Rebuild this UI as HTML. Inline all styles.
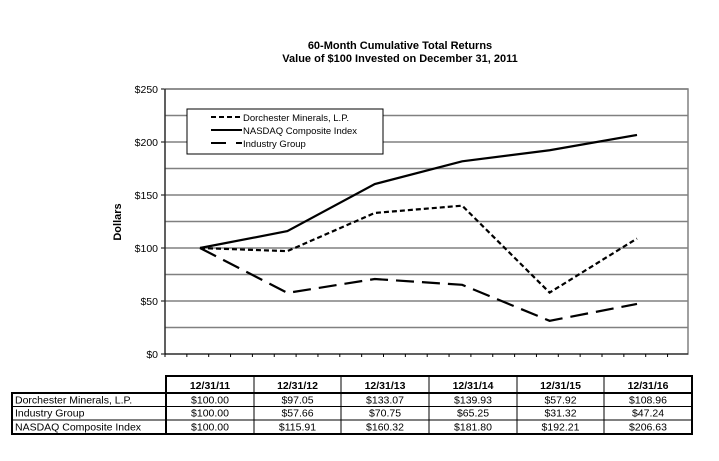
<!DOCTYPE html>
<html><head><meta charset="utf-8"><style>
body{margin:0;background:#fff;}
svg text{font-family:"Liberation Sans",Arial,sans-serif;}
</style></head><body>
<svg width="719" height="456" viewBox="0 0 719 456">
<text x="400" y="49" font-size="11" font-weight="bold" text-anchor="middle">60-Month Cumulative Total Returns</text>
<text x="400" y="62" font-size="11" font-weight="bold" text-anchor="middle">Value of $100 Invested on December 31, 2011</text>
<text transform="translate(121,222) rotate(-90)" font-size="11" font-weight="bold" text-anchor="middle">Dollars</text>
<g id="grid"></g>
<g id="series"></g>
<g id="legend">
<rect x="187" y="109" width="196" height="45" fill="#fff" stroke="#000" stroke-width="1"/>
<line x1="211" y1="117" x2="242" y2="117" stroke="#000" stroke-width="2" stroke-dasharray="5,3"/>
<text x="243" y="121" font-size="9.5">Dorchester Minerals, L.P.</text>
<line x1="211" y1="130" x2="242" y2="130" stroke="#000" stroke-width="2"/>
<text x="243" y="134" font-size="9.5">NASDAQ Composite Index</text>
<line x1="211" y1="143" x2="226" y2="143" stroke="#000" stroke-width="2"/>
<line x1="236" y1="143" x2="242" y2="143" stroke="#000" stroke-width="2"/>
<text x="243" y="147" font-size="9.5">Industry Group</text>
</g>
<g id="table"></g>
</svg>
<script>
const categories=["12/31/11","12/31/12","12/31/13","12/31/14","12/31/15","12/31/16"];
const dorchester=[100.00,97.05,133.07,139.93,57.92,108.96];
const industry=[100.00,57.66,70.75,65.25,31.32,47.24];
const nasdaq=[100.00,115.91,160.32,181.80,192.21,206.63];
const yTicks=[0,50,100,150,200,250];
const rowNames=["Dorchester Minerals, L.P.","Industry Group","NASDAQ Composite Index"];
const NS="http://www.w3.org/2000/svg";
const L=165,R=688,T=89,B=354;
const y=v=>B-(v/250)*(B-T);
const x=i=>200+i*87.4;
function mk(tag,attrs,parent){const e=document.createElementNS(NS,tag);for(const k in attrs)e.setAttribute(k,attrs[k]);parent.appendChild(e);return e;}
const grid=document.getElementById('grid');
for(let v=25;v<=250;v+=25){
 const g=mk('line',{x1:L,x2:R,y1:y(v),y2:y(v),stroke:'#808080','stroke-width':1.5},grid);
 
 
}
yTicks.forEach(v=>{
 mk('line',{x1:L-4,x2:L,y1:y(v),y2:y(v),stroke:'#000'},grid);
 const t=mk('text',{x:L-7,y:y(v)+4,'font-size':10.5,'text-anchor':'end'},grid);
 t.textContent='$'+v;
 
 
});
mk('rect',{x:L,y:T,width:R-L,height:B-T,fill:'none',stroke:'#808080','stroke-width':1.5},grid);
mk('line',{x1:L,x2:L,y1:T,y2:B,stroke:'#000'},grid);
mk('line',{x1:L,x2:R,y1:B,y2:B,stroke:'#000'},grid);
for(let px=L;px<=R;px+=21.85){mk('line',{x1:px,x2:px,y1:B,y2:B+3,stroke:'#000'},grid);}
const ser=document.getElementById('series');
function drawLine(data,dash,name){
 const p=mk('polyline',{points:data.map((v,i)=>x(i)+','+y(v)).join(' '),fill:'none',stroke:'#000','stroke-width':2.2,'stroke-dasharray':dash},ser);
 
 
}
drawLine(nasdaq,'none','nasdaq-line');
drawLine(dorchester,'5,3','dorchester-line');
drawLine(industry,'18,8','industry-line');
const tb=document.getElementById('table');
const cols=[12,166,254,341,429,517,604,692];
const rows=[376,393,406,420,434];
mk('rect',{x:166,y:376,width:526,height:17,fill:'none',stroke:'#000','stroke-width':2},tb);
mk('rect',{x:12,y:393,width:680,height:41,fill:'none',stroke:'#000','stroke-width':2},tb);
mk('line',{x1:166,x2:166,y1:393,y2:434,stroke:'#000','stroke-width':2},tb);
for(let c=2;c<7;c++)mk('line',{x1:cols[c],x2:cols[c],y1:376,y2:434,stroke:'#000','stroke-width':1},tb);
mk('line',{x1:12,x2:692,y1:406.5,y2:406.5,stroke:'#000'},tb);
mk('line',{x1:12,x2:692,y1:420,y2:420,stroke:'#000'},tb);
categories.forEach((c,i)=>{
 const t=mk('text',{x:(cols[i+1]+cols[i+2])/2,y:389,'font-size':10.5,'font-weight':'bold','text-anchor':'middle'},tb);
 t.textContent=c;
 
 
});
[dorchester,industry,nasdaq].forEach((arr,r)=>{
 const n=mk('text',{x:15,y:rows[r+1]+10.5,'font-size':10.5},tb);
 n.textContent=rowNames[r];
 
 
 arr.forEach((v,i)=>{
  const t=mk('text',{x:(cols[i+1]+cols[i+2])/2,y:rows[r+1]+10.5,'font-size':10.5,'text-anchor':'middle'},tb);
  t.textContent='$'+v.toFixed(2);
  
  
 });
});
</script>
</body></html>
